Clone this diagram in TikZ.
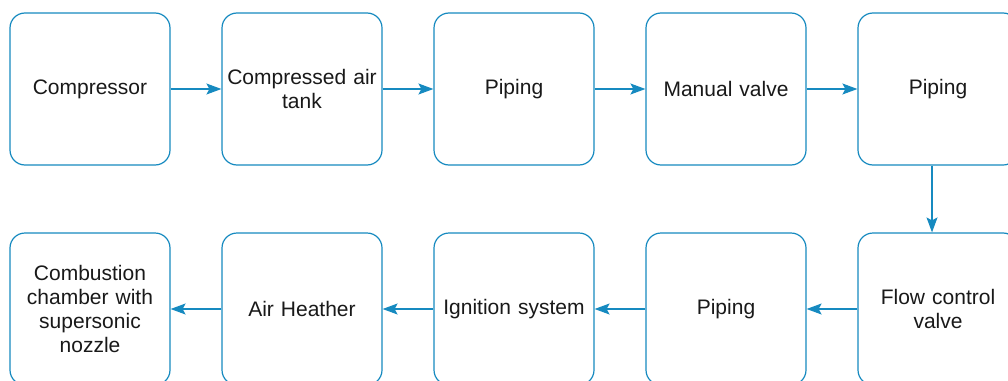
\documentclass[tikz,border=0pt]{standalone}
\usepackage{fontspec}
\setmainfont{Liberation Sans}
\usetikzlibrary{arrows.meta}
\definecolor{flowblue}{RGB}{22,138,192}
\begin{document}
\begin{tikzpicture}[x=1pt,y=-1pt,
  stage/.style={draw=flowblue, line width=1.2pt, rounded corners=15pt, fill=white,
    minimum width=160pt, minimum height=152pt, align=center, text width=156pt,
    inner sep=0pt, font=\fontsize{21}{24}\selectfont, text=black!90},
  link/.style={draw=flowblue, line width=1.2pt,
    -{Stealth[length=15pt, width=11pt, inset=3pt]}}]
\useasboundingbox (0,0) rectangle (1008,380);
% top row, left to right
\node[stage] (comp)  at (90,89)  {Compressor};
\node[stage] (tank)  at (302,89) {Compressed air\\tank};
\node[stage] (pipeA) at (514,89) {Piping};
\node[stage] (man)   at (726,89) {Manual valve};
\node[stage] (pipeB) at (938,89) {Piping};
% bottom row, right to left
\node[stage] (flow)  at (938,309) {Flow control\\valve};
\node[stage] (pipeC) at (726,309) {Piping};
\node[stage] (ign)   at (514,309) {Ignition system};
\node[stage] (heat)  at (302,309) {Air Heather};
\node[stage] (comb)  at (90,309)  {Combustion\\chamber with\\supersonic\\nozzle};
% connectors
\draw[link] (comp) -- (tank);
\draw[link] (tank) -- (pipeA);
\draw[link] (pipeA) -- (man);
\draw[link] (man) -- (pipeB);
\draw[link] ([xshift=-6pt]pipeB.south) -- ([xshift=-6pt]flow.north);
\draw[link] (flow) -- (pipeC);
\draw[link] (pipeC) -- (ign);
\draw[link] (ign) -- (heat);
\draw[link] (heat) -- (comb);
\end{tikzpicture}
\end{document}
